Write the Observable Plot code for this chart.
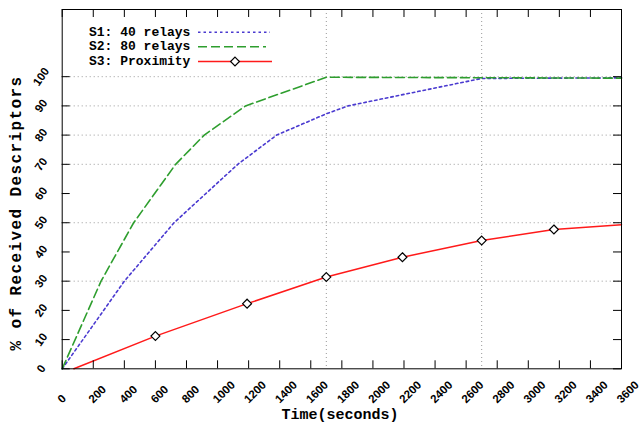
<!DOCTYPE html>
<html><head><meta charset="utf-8">
<script src="https://cdn.jsdelivr.net/npm/d3@7"></script>
<script src="https://cdn.jsdelivr.net/npm/@observablehq/plot@0.6"></script>
<style>body{margin:0;background:#fff} svg{display:block}</style>
</head><body><div id="chart"></div>
<script>
// ---- data ----
const xTicks = [0,200,400,600,800,1000,1200,1400,1600,1800,2000,2200,2400,2600,2800,3000,3200,3400,3600];
const yTicks = [0,10,20,30,40,50,60,70,80,90,100];
const yGrid = [30,50,70,80,90,100];
const xGrid = [1700,2700];

const seriesNames = ["S1: 40 relays","S2: 80 relays","S3: Proximity"];

const s1T = [0,400,720,935,1130,1380,1700,1840,2700,3600];
const s1V = [0,30,50,60.5,70,80,87.3,90,99.4,99.6];

const s2T = [0,250,460,730,914,1180,1700,3600];
const s2V = [0,30,50,70,80,90,99.8,99.5];

const s3T = [75,600,1190,1700,2190,2700,3165,3600];
const s3V = [0,11.2,22.3,31.4,38.2,43.9,47.7,49.3];
const s3Marker = [false,true,true,true,true,true,true,false];

// ---- layout ----
const W = 642, H = 423;
const mL = 61.7, mR = 21, mT = 9, mB = 54.7;
const plotH = H - mT - mB, plotW = W - mL - mR;
const blue = "#4a3ad0", green = "#2e9e2e", red = "#ff1a1a";
const mono = "Liberation Mono, Courier New, monospace";
const sans = "Liberation Sans, Arial, sans-serif";

const s1 = s1T.map((t,i)=>({t, v:s1V[i]}));
const s2 = s2T.map((t,i)=>({t, v:s2V[i]}));
const s3 = s3T.map((t,i)=>({t, v:s3V[i], m:s3Marker[i]}));

const chart = Plot.plot({
  width: W, height: H,
  marginLeft: mL, marginRight: mR, marginTop: mT, marginBottom: mB,
  x: {domain: [0,3600], axis: null},
  y: {domain: [0,123], axis: null},
  style: {background: "white", overflow: "visible"},
  marks: [
    Plot.ruleY(yGrid, {y: d=>d, stroke: "#999", strokeDasharray: "1,3", strokeWidth: 1}),
    Plot.ruleX(xGrid, {x: d=>d, stroke: "#999", strokeDasharray: "1,3", strokeWidth: 1}),
    Plot.line(s1, {x: "t", y: "v", stroke: blue, strokeWidth: 1.6, strokeDasharray: "2.5,3"}),
    Plot.line(s2, {x: "t", y: "v", stroke: green, strokeWidth: 1.6, strokeDasharray: "9,4"}),
    Plot.line(s3, {x: "t", y: "v", stroke: red, strokeWidth: 1.5}),
    Plot.dot(s3.filter(d=>d.m), {x: "t", y: "v", symbol: "diamond2", r: 4, fill: "white", stroke: "black", strokeWidth: 1.2}),
    Plot.tickX(xTicks, {x: d=>d, insetTop: plotH-8, stroke: "black"}),
    Plot.tickX(xTicks, {x: d=>d, insetBottom: plotH-8, stroke: "black"}),
    Plot.tickY(yTicks, {y: d=>d, insetRight: plotW-8, stroke: "black"}),
    Plot.tickY(yTicks, {y: d=>d, insetLeft: plotW-8, stroke: "black"}),
    Plot.frame({stroke: "black", strokeWidth: 1}),
    Plot.text(xTicks, {x: d=>d, text: d=>String(d), frameAnchor: "bottom", dy: 35, dx: 0, rotate: -45,
      textAnchor: "start", lineAnchor: "bottom", fontSize: 11.5, fontWeight: "bold", fontFamily: sans, fill: "black"}),
    Plot.text(yTicks, {y: d=>d, text: d=>String(d), frameAnchor: "left", dx: -21, rotate: -55,
      textAnchor: "middle", lineAnchor: "middle", fontSize: 11.5, fontWeight: "bold", fontFamily: sans, fill: "black"})
  ]
});
document.getElementById("chart").appendChild(chart);

// ---- titles & legend ----
const svg = d3.select(chart);
svg.append("text")
  .attr("transform", "translate(17,213) rotate(-90)")
  .attr("text-anchor", "middle").attr("dominant-baseline", "middle")
  .style("font-family", mono).style("font-weight", "bold").style("font-size", "16px")
  .style("letter-spacing", "1.4px").attr("fill", "black")
  .text("% of Received Descriptors");
svg.append("text")
  .attr("x", 340).attr("y", 419)
  .attr("text-anchor", "middle")
  .style("font-family", mono).style("font-weight", "bold").style("font-size", "15px")
  .attr("fill", "black")
  .text("Time(seconds)");

const legendY = [32.3, 46.8, 61.5];
const legendStyles = [
  {stroke: blue, dash: "2.5,3", x2: 270, marker: false},
  {stroke: green, dash: "9,4", x2: 266, marker: false},
  {stroke: red, dash: null, x2: 272, marker: true}
];
const lg = svg.append("g");
seriesNames.forEach((name, i) => {
  const y = legendY[i], st = legendStyles[i];
  lg.append("text").attr("x", 89).attr("y", y)
    .attr("text-anchor", "start").attr("dominant-baseline", "middle")
    .style("font-family", mono).style("font-weight", "bold").style("font-size", "13px")
    .attr("fill", "black").text(name);
  const ln = lg.append("line").attr("x1", 198).attr("x2", st.x2).attr("y1", y).attr("y2", y)
    .attr("stroke", st.stroke).attr("stroke-width", 1.6);
  if (st.dash) ln.attr("stroke-dasharray", st.dash);
  if (st.marker) {
    lg.append("path").attr("d", d3.symbol(d3.symbolDiamond2, 50)())
      .attr("transform", `translate(235,${y})`)
      .attr("fill", "white").attr("stroke", "black").attr("stroke-width", 1.2);
  }
});
</script>
</body></html>
